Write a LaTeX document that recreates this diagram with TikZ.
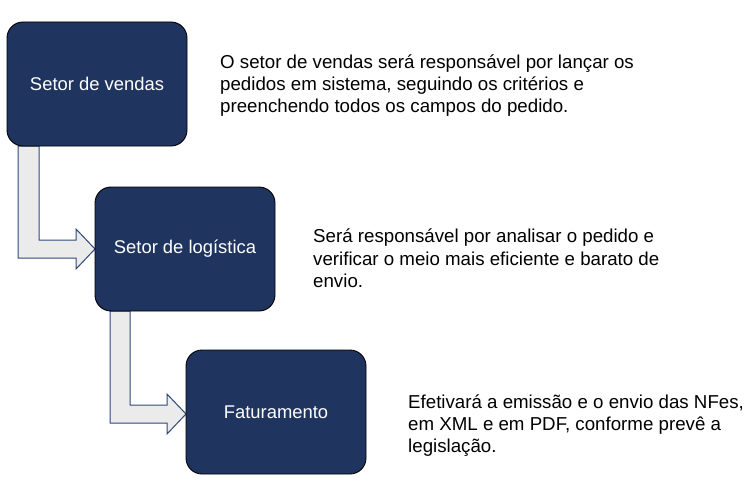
\documentclass[tikz,border=0pt]{standalone}
\usepackage{fontspec}
\setmainfont{Liberation Sans}
\usetikzlibrary{calc}
\definecolor{navy}{RGB}{32,52,96}
\definecolor{arrowline}{RGB}{47,72,122}
\definecolor{arrowfill}{RGB}{235,235,235}
\begin{document}
\begin{tikzpicture}[x=1pt,y=-1pt,
  stepbox/.style={draw=black,line width=0.9pt,fill=navy,rounded corners=16pt,
    minimum width=180pt,minimum height=124pt,text=white,inner sep=0pt,
    font=\fontsize{18.4}{22}\selectfont},
  desc/.style={anchor=north west,align=left,inner sep=0pt,text=black,
    font=\fontsize{18.7}{22.2}\selectfont},
  bentarrow/.style={draw=arrowline,line width=1pt,fill=arrowfill,line join=miter}]
\useasboundingbox (0,0) rectangle (754,484);
% bent arrows
\draw[bentarrow] (18,146) -- (39,146) -- (39,240) -- (76,240) -- (76,229) -- (95,249) -- (76,269) -- (76,258) -- (18,258) -- cycle;
\draw[bentarrow] (110,311) -- (130,311) -- (130,405) -- (167,405) -- (167,394) -- (186,414) -- (167,434) -- (167,423) -- (110,423) -- cycle;
% boxes
\node[stepbox] (b1) at (97,84) {Setor de vendas};
\node[stepbox] (b2) at (185,249) {Setor de logística};
\node[stepbox] (b3) at (276,412) {Faturamento};
% descriptions
\node[desc] (t1) at (220,54.5) {O setor de vendas será responsável por lançar os\\pedidos em sistema, seguindo os critérios e\\preenchendo todos os campos do pedido.};
\node[desc] (t2) at (313,229) {Será responsável por analisar o pedido e\\verificar o meio mais eficiente e barato de\\envio.};
\node[desc] (t3) at (408,394.5) {Efetivará a emissão e o envio das NFes,\\em XML e em PDF, conforme prevê a\\legislação.};
\end{tikzpicture}
\end{document}
